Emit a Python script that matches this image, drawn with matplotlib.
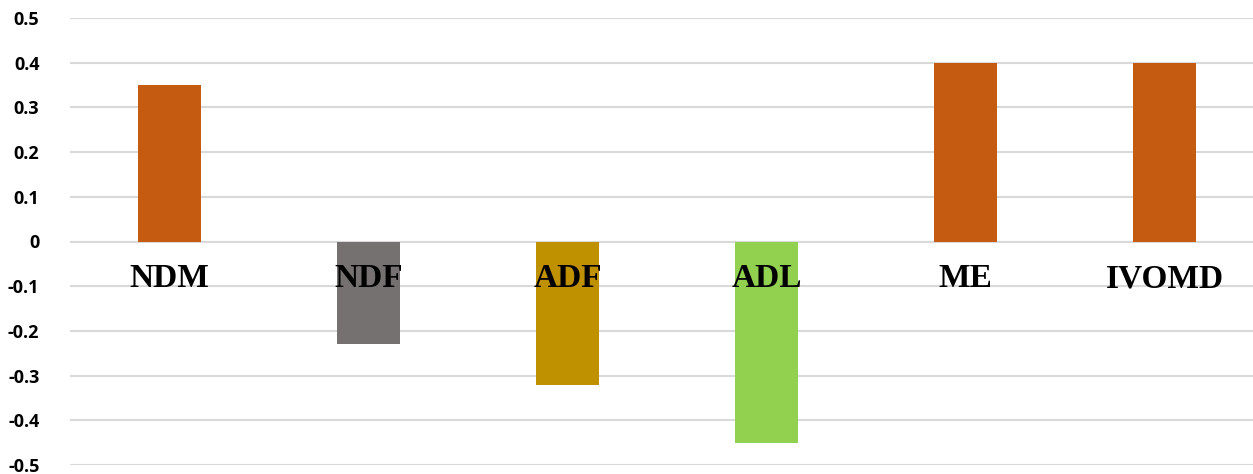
import matplotlib.pyplot as plt
import numpy as np

categories = ["NDM", "NDF", "ADF", "ADL", "ME", "IVOMD"]
values = [0.35, -0.23, -0.32, -0.45, 0.40, 0.40]
colors = ["#C55A11", "#767171", "#BF9000", "#92D050", "#C55A11", "#C55A11"]
yticks = [-0.5, -0.4, -0.3, -0.2, -0.1, 0, 0.1, 0.2, 0.3, 0.4, 0.5]
ytick_labels = ["-0.5", "-0.4", "-0.3", "-0.2", "-0.1", "0", "0.1", "0.2", "0.3", "0.4", "0.5"]

fig = plt.figure(figsize=(12.53, 4.74), dpi=100)
ax = fig.add_axes([70 / 1253, 1 - 465 / 474, 1194 / 1253, 447 / 474])

x = np.arange(len(categories))
ax.bar(x, values, width=0.32, color=colors, zorder=2)

ax.set_xlim(-0.5, 5.5)
ax.set_ylim(-0.5, 0.5)
ax.set_yticks(yticks)
ax.set_yticklabels(ytick_labels, fontfamily="Open Sans", fontweight="bold", fontsize=13)
ax.tick_params(axis="y", length=0, pad=22)
ax.set_xticks([])
ax.grid(axis="y", color="#d9d9d9", linewidth=1.5, zorder=0)
ax.set_axisbelow(True)
for s in ax.spines.values():
    s.set_visible(False)

for xi, name in zip(x, categories):
    ax.text(xi, -0.083, name, ha="center", va="center", fontfamily="Liberation Serif",
            fontweight="bold", fontsize=24, zorder=3)

fig.savefig("out.png", dpi=100)
